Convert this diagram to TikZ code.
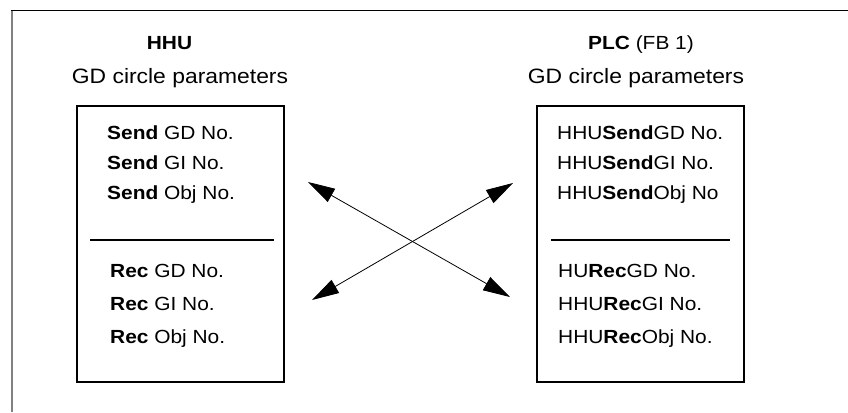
\documentclass[tikz,border=0pt]{standalone}
\usepackage{fontspec}
\setmainfont{Liberation Sans}[FakeStretch=1.1]
\usetikzlibrary{arrows.meta}
\tikzset{
  txt/.style={anchor=base west, inner sep=0pt, font=\fontsize{19bp}{21bp}\selectfont},
  head/.style={anchor=base, inner sep=0pt, font=\fontsize{19bp}{21bp}\selectfont},
  sub/.style={anchor=base, inner sep=0pt, font=\fontsize{20.8bp}{23bp}\selectfont},
  panel/.style={draw=black, line width=1.4bp},
  sep/.style={draw=black, line width=1.4bp},
  link/.style={draw=black, line width=0.8bp, {Triangle[length=27bp,width=15bp]}-{Triangle[length=27bp,width=15bp]}}
}
\begin{document}
\begin{tikzpicture}[x=1bp,y=-1bp]
\useasboundingbox (0,0) rectangle (848,412);
% frame
\draw[gray, line width=2bp] (12,412) -- (12,10);
\draw[black, line width=1bp] (11,10) -- (848,10);
% headings
\node[head] (hhu) at (169.5,49) {\textbf{HHU}};
\node[sub] (gdl) at (180,83) {GD circle parameters};
\node[head] (plc) at (641,49) {\textbf{PLC} (FB 1)};
\node[sub] (gdr) at (636,83) {GD circle parameters};
% boxes
\draw[panel] (77,106) rectangle (284,382);
\draw[panel] (537,106) rectangle (744,382);
\draw[sep] (90,240) -- (274,240);
\draw[sep] (551,240) -- (730,240);
% left texts
\node[txt] (ls1) at (107,139) {\textbf{Send} GD No.};
\node[txt] (ls2) at (107,169) {\textbf{Send} GI No.};
\node[txt] (ls3) at (107,199) {\textbf{Send} Obj No.};
\node[txt] (lr1) at (110,277) {\textbf{Rec} GD No.};
\node[txt] (lr2) at (110,310) {\textbf{Rec} GI No.};
\node[txt] (lr3) at (110,343) {\textbf{Rec} Obj No.};
% right texts
\node[txt] (rs1) at (557,139) {HHU\textbf{Send}GD No.};
\node[txt] (rs2) at (557,169) {HHU\textbf{Send}GI No.};
\node[txt] (rs3) at (557,199) {HHU\textbf{Send}Obj No};
\node[txt] (rr1) at (558,277) {HU\textbf{Rec}GD No.};
\node[txt] (rr2) at (558,310) {HHU\textbf{Rec}GI No.};
\node[txt] (rr3) at (558,343) {HHU\textbf{Rec}Obj No.};
% arrows
\coordinate (a1) at (308,182);
\coordinate (b1) at (510,297);
\coordinate (a2) at (312,300);
\coordinate (b2) at (513,183);
\draw[link] (a1) -- (b1);
\draw[link] (a2) -- (b2);
\end{tikzpicture}
\end{document}
